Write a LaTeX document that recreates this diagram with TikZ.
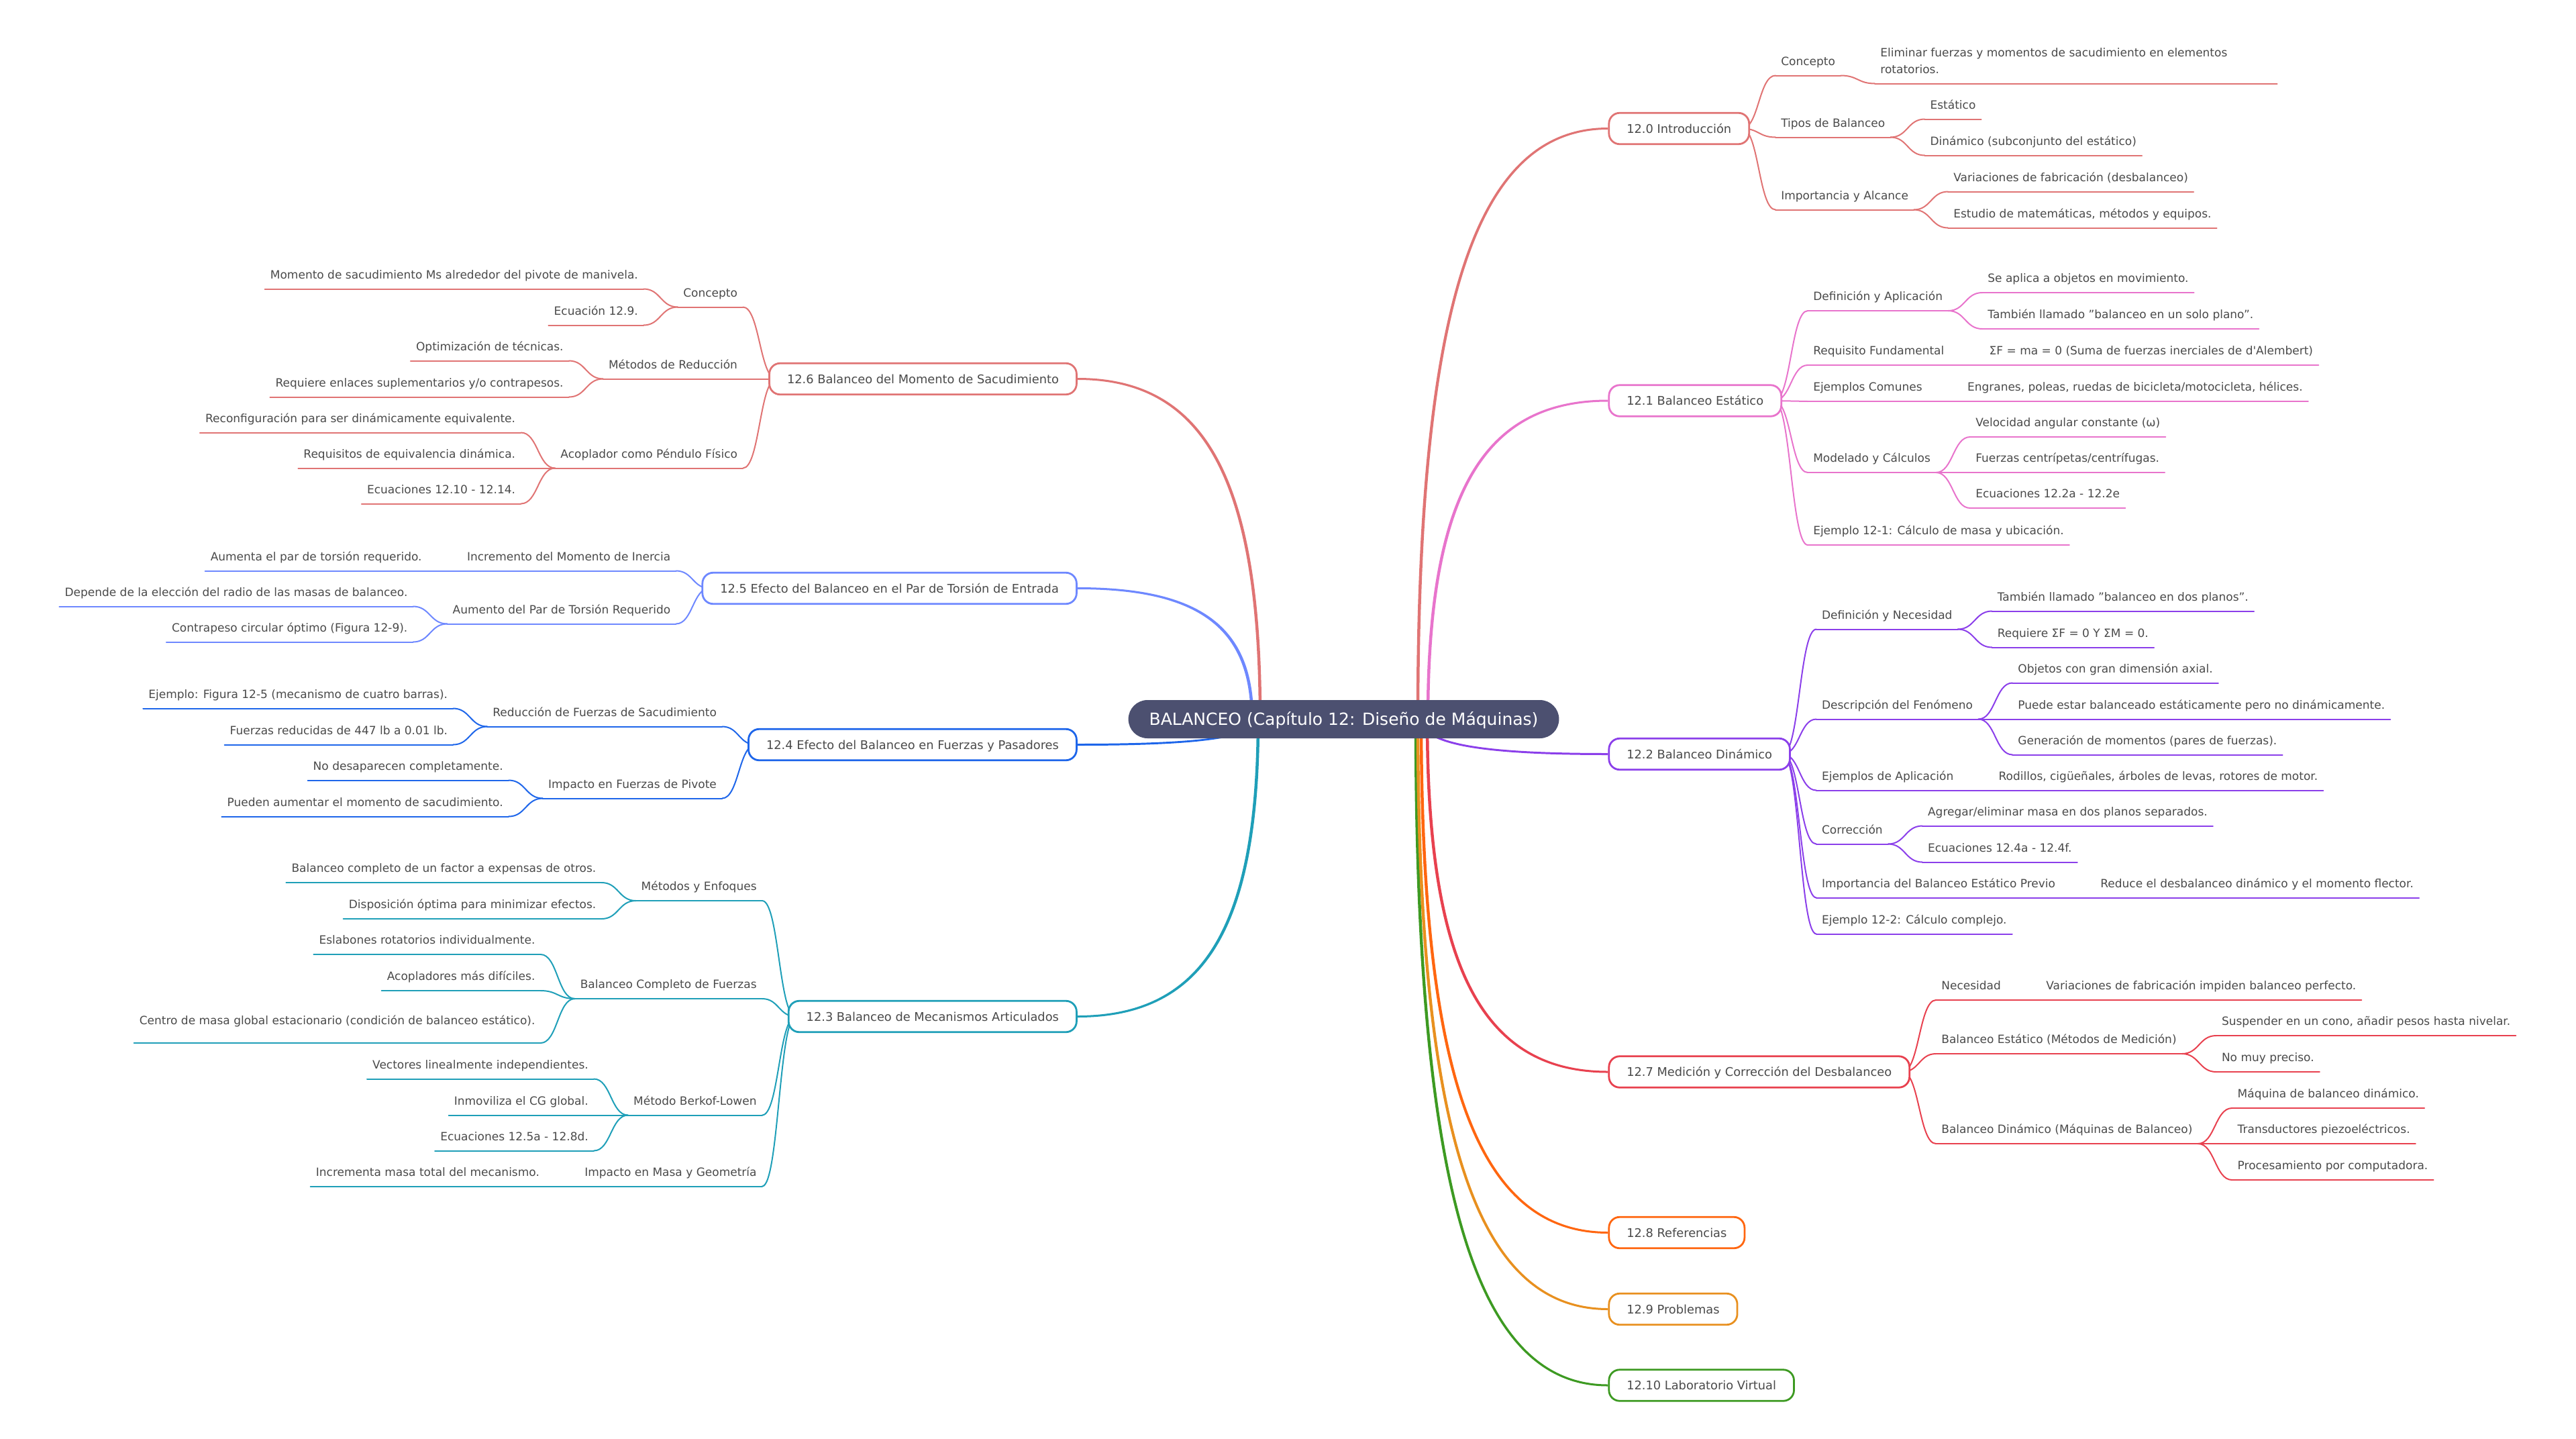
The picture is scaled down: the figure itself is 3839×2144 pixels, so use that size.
\documentclass[tikz,border=0pt]{standalone}
\usepackage{fontspec}
\setmainfont{DejaVu Sans}
\usetikzlibrary{calc,positioning}
\pgfdeclarelayer{bg}
\pgfsetlayers{bg,main}

\definecolor{rootfill}{HTML}{4C5070}
\definecolor{txt}{HTML}{4A4A4A}
\definecolor{colIntro}{HTML}{E07474}
\definecolor{colStatic}{HTML}{E874CC}
\definecolor{colDyn}{HTML}{8B3FEA}
\definecolor{colLink}{HTML}{1F9FB8}
\definecolor{colForce}{HTML}{1E66EA}
\definecolor{colTorque}{HTML}{6E88FF}
\definecolor{colShake}{HTML}{E07474}
\definecolor{colMeas}{HTML}{E8414F}
\definecolor{colRefs}{HTML}{FF6610}
\definecolor{colProbs}{HTML}{E8901F}
\definecolor{colLab}{HTML}{3D9A22}

% curved link, flat at both ends
\newcommand{\mmlink}[3]{\draw[mmline=#1] let \p1=(#2), \p2=(#3) in (\p1) .. controls ({0.5*\x1+0.5*\x2},\y1) and ({0.5*\x1+0.5*\x2},\y2) .. (\p2);}

% tapered link out of the root
\newcommand{\rootlink}[3]{%
  \path (#2) coordinate (rlS) (#3) coordinate (rlE);
  \coordinate (rlSi) at ($(rlS)!2.25pt!(rlS-|rlE)$);
  \coordinate (rlSo) at ($(rlS)!-2.25pt!(rlS-|rlE)$);
  \coordinate (rlEi) at ($(rlE)!1.5pt!(rlE|-rlS)$);
  \coordinate (rlEo) at ($(rlE)!-1.5pt!(rlE|-rlS)$);
  \fill[#1] (rlSo) .. controls ($(rlSo)!0.7!(rlSo|-rlEo)$) and ($(rlEo)!0.7!(rlSo|-rlEo)$) .. (rlEo)
    -- (rlEi) .. controls ($(rlEi)!0.7!(rlSi|-rlEi)$) and ($(rlSi)!0.7!(rlSi|-rlEi)$) .. (rlSi) -- cycle;}

% box -> topics -> leaves, right and left side
\newcommand{\branchR}[3]{%
  \foreach \cat/\leaves in {#3} {
    \mmlink{#2}{[xshift=-12pt]#1.east}{\cat.south west}
    \draw[mmline=#2] (\cat.south west) -- (\cat.south east);
    \foreach \lf in \leaves {
      \mmlink{#2}{\cat.south east}{\lf.south west}
      \draw[mmline=#2] (\lf.south west) -- (\lf.south east);
    }
  }}
\newcommand{\branchL}[3]{%
  \foreach \cat/\leaves in {#3} {
    \mmlink{#2}{[xshift=12pt]#1.west}{\cat.south east}
    \draw[mmline=#2] (\cat.south west) -- (\cat.south east);
    \foreach \lf in \leaves {
      \mmlink{#2}{\cat.south west}{\lf.south east}
      \draw[mmline=#2] (\lf.south west) -- (\lf.south east);
    }
  }}

\begin{document}
\begin{tikzpicture}[x=1pt, y=-1pt,
    rootnode/.style={fill=rootfill, text=white, rounded corners=28.5pt, minimum height=57pt,
      inner xsep=31pt, inner ysep=0pt, text height=24pt, text depth=5.8pt, font=\fontsize{25}{30}\selectfont},
    secbox/.style={draw=#1, fill=white, line width=2.8pt, rounded corners=16pt, minimum height=46.5pt,
      inner xsep=26.5pt, inner ysep=0pt, text height=17pt, text depth=4pt, text=txt, font=\fontsize{17.8}{22}\selectfont},
    mmtext/.style={inner xsep=8pt, inner ysep=15pt, text depth=0pt, text=txt, font=\fontsize{17}{25}\selectfont},
    catR/.style={mmtext, anchor=south west},
    catL/.style={mmtext, anchor=south east},
    mmline/.style={draw=#1, line width=2pt, line cap=round}]
  \useasboundingbox (0,0) rectangle (3839,2144);

  \node[rootnode] (root) at (2002.5,1071.5) {BALANCEO (Capítulo 12: Diseño de Máquinas)};
  \coordinate (rootL) at (1872,1071);
  \coordinate (rootR) at (2118,1071);

  % right boxes
  \node[secbox=colIntro, anchor=west] (b0) at (2396.4,191.5) {12.0 Introducción};
  \node[secbox=colStatic, anchor=west] (b1) at (2396.4,597) {12.1 Balanceo Estático};
  \node[secbox=colDyn, anchor=west] (b2) at (2396.4,1123.5) {12.2 Balanceo Dinámico};
  \node[secbox=colMeas, anchor=west] (b7) at (2396.4,1597) {12.7 Medición y Corrección del Desbalanceo};
  \node[secbox=colRefs, anchor=west] (b8) at (2396.4,1836.5) {12.8 Referencias};
  \node[secbox=colProbs, anchor=west] (b9) at (2396.4,1950.5) {12.9 Problemas};
  \node[secbox=colLab, anchor=west] (b10) at (2396.4,2064) {12.10 Laboratorio Virtual};
  % left boxes
  \node[secbox=colShake, anchor=east] (b6) at (1605.8,564.5) {12.6 Balanceo del Momento de Sacudimiento};
  \node[secbox=colTorque, anchor=east] (b5) at (1605.8,876.5) {12.5 Efecto del Balanceo en el Par de Torsión de Entrada};
  \node[secbox=colForce, anchor=east] (b4) at (1605.8,1109.5) {12.4 Efecto del Balanceo en Fuerzas y Pasadores};
  \node[secbox=colLink, anchor=east] (b3) at (1605.8,1514.5) {12.3 Balanceo de Mecanismos Articulados};

  % 12.0
  \node[catR] (t0a) at ($(b0.east)+(38,-79)$) {Concepto};
  \node[catR] (t0a1) at ($(t0a.south east)+(51,12)$) {\makebox[583pt][l]{\begin{tabular}[b]{@{}l@{}}Eliminar fuerzas y momentos de sacudimiento en elementos\\ rotatorios.\end{tabular}}};
  \node[catR] (t0b) at ($(b0.east)+(38,13)$) {Tipos de Balanceo};
  \node[catR] (t0b1) at ($(t0b.south east)+(51,-27)$) {Estático};
  \node[catR] (t0b2) at ($(t0b.south east)+(51,27)$) {Dinámico (subconjunto del estático)};
  \node[catR] (t0c) at ($(b0.east)+(38,121)$) {Importancia y Alcance};
  \node[catR] (t0c1) at ($(t0c.south east)+(51,-27)$) {Variaciones de fabricación (desbalanceo)};
  \node[catR] (t0c2) at ($(t0c.south east)+(51,27)$) {Estudio de matemáticas, métodos y equipos.};

  % 12.1
  \node[catR] (t1a) at ($(b1.east)+(38,-134)$) {Definición y Aplicación};
  \node[catR] (t1a1) at ($(t1a.south east)+(51,-27)$) {Se aplica a objetos en movimiento.};
  \node[catR] (t1a2) at ($(t1a.south east)+(51,27)$) {También llamado "balanceo en un solo plano".};
  \node[catR] (t1b) at ($(b1.east)+(38,-53)$) {Requisito Fundamental};
  \node[catR] (t1b1) at ($(t1b.south east)+(51,0)$) {ΣF = ma = 0 (Suma de fuerzas inerciales de d\textquotesingle Alembert)};
  \node[catR] (t1c) at ($(b1.east)+(38,1)$) {Ejemplos Comunes};
  \node[catR] (t1c1) at ($(t1c.south east)+(51,0)$) {Engranes, poleas, ruedas de bicicleta/motocicleta, hélices.};
  \node[catR] (t1d) at ($(b1.east)+(38,107)$) {Modelado y Cálculos};
  \node[catR] (t1d1) at ($(t1d.south east)+(51,-53)$) {Velocidad angular constante (ω)};
  \node[catR] (t1d2) at ($(t1d.south east)+(51,0)$) {Fuerzas centrípetas/centrífugas.};
  \node[catR] (t1d3) at ($(t1d.south east)+(51,53)$) {Ecuaciones 12.2a - 12.2e};
  \node[catR] (t1e) at ($(b1.east)+(38,215)$) {Ejemplo 12-1: Cálculo de masa y ubicación.};

  % 12.2
  \node[catR] (t2a) at ($(b2.east)+(38,-186)$) {Definición y Necesidad};
  \node[catR] (t2a1) at ($(t2a.south east)+(51,-27)$) {También llamado "balanceo en dos planos".};
  \node[catR] (t2a2) at ($(t2a.south east)+(51,27)$) {Requiere ΣF = 0 Y ΣM = 0.};
  \node[catR] (t2b) at ($(b2.east)+(38,-52)$) {Descripción del Fenómeno};
  \node[catR] (t2b1) at ($(t2b.south east)+(51,-54)$) {Objetos con gran dimensión axial.};
  \node[catR] (t2b2) at ($(t2b.south east)+(51,0)$) {Puede estar balanceado estáticamente pero no dinámicamente.};
  \node[catR] (t2b3) at ($(t2b.south east)+(51,53)$) {Generación de momentos (pares de fuerzas).};
  \node[catR] (t2c) at ($(b2.east)+(38,54)$) {Ejemplos de Aplicación};
  \node[catR] (t2c1) at ($(t2c.south east)+(51,0)$) {Rodillos, cigüeñales, árboles de levas, rotores de motor.};
  \node[catR] (t2d) at ($(b2.east)+(38,134)$) {Corrección};
  \node[catR] (t2d1) at ($(t2d.south east)+(51,-27)$) {Agregar/eliminar masa en dos planos separados.};
  \node[catR] (t2d2) at ($(t2d.south east)+(51,27)$) {Ecuaciones 12.4a - 12.4f.};
  \node[catR] (t2e) at ($(b2.east)+(38,214)$) {Importancia del Balanceo Estático Previo};
  \node[catR] (t2e1) at ($(t2e.south east)+(51,0)$) {Reduce el desbalanceo dinámico y el momento flector.};
  \node[catR] (t2f) at ($(b2.east)+(38,268)$) {Ejemplo 12-2: Cálculo complejo.};

  % 12.7
  \node[catR] (t7a) at ($(b7.east)+(38,-107)$) {Necesidad};
  \node[catR] (t7a1) at ($(t7a.south east)+(51,0)$) {Variaciones de fabricación impiden balanceo perfecto.};
  \node[catR] (t7b) at ($(b7.east)+(38,-27)$) {Balanceo Estático (Métodos de Medición)};
  \node[catR] (t7b1) at ($(t7b.south east)+(51,-27)$) {Suspender en un cono, añadir pesos hasta nivelar.};
  \node[catR] (t7b2) at ($(t7b.south east)+(51,27)$) {No muy preciso.};
  \node[catR] (t7c) at ($(b7.east)+(38,107)$) {Balanceo Dinámico (Máquinas de Balanceo)};
  \node[catR] (t7c1) at ($(t7c.south east)+(51,-53)$) {Máquina de balanceo dinámico.};
  \node[catR] (t7c2) at ($(t7c.south east)+(51,0)$) {Transductores piezoeléctricos.};
  \node[catR] (t7c3) at ($(t7c.south east)+(51,54)$) {Procesamiento por computadora.};

  % 12.6
  \node[catL] (t6a) at ($(b6.west)+(-38,-107)$) {Concepto};
  \node[catL] (t6a1) at ($(t6a.south west)+(-51,-27)$) {Momento de sacudimiento Ms alrededor del pivote de manivela.};
  \node[catL] (t6a2) at ($(t6a.south west)+(-51,27)$) {Ecuación 12.9.};
  \node[catL] (t6b) at ($(b6.west)+(-38,0)$) {Métodos de Reducción};
  \node[catL] (t6b1) at ($(t6b.south west)+(-51,-27)$) {Optimización de técnicas.};
  \node[catL] (t6b2) at ($(t6b.south west)+(-51,27)$) {Requiere enlaces suplementarios y/o contrapesos.};
  \node[catL] (t6c) at ($(b6.west)+(-38,133)$) {Acoplador como Péndulo Físico};
  \node[catL] (t6c1) at ($(t6c.south west)+(-51,-53)$) {Reconfiguración para ser dinámicamente equivalente.};
  \node[catL] (t6c2) at ($(t6c.south west)+(-51,0)$) {Requisitos de equivalencia dinámica.};
  \node[catL] (t6c3) at ($(t6c.south west)+(-51,53)$) {Ecuaciones 12.10 - 12.14.};

  % 12.5
  \node[catL] (t5a) at ($(b5.west)+(-38,-26)$) {Incremento del Momento de Inercia};
  \node[catL] (t5a1) at ($(t5a.south west)+(-51,0)$) {Aumenta el par de torsión requerido.};
  \node[catL] (t5b) at ($(b5.west)+(-38,53)$) {Aumento del Par de Torsión Requerido};
  \node[catL] (t5b1) at ($(t5b.south west)+(-51,-26)$) {Depende de la elección del radio de las masas de balanceo.};
  \node[catL] (t5b2) at ($(t5b.south west)+(-51,27)$) {Contrapeso circular óptimo (Figura 12-9).};

  % 12.4
  \node[catL] (t4a) at ($(b4.west)+(-38,-27)$) {Reducción de Fuerzas de Sacudimiento};
  \node[catL] (t4a1) at ($(t4a.south west)+(-51,-27)$) {Ejemplo: Figura 12-5 (mecanismo de cuatro barras).};
  \node[catL] (t4a2) at ($(t4a.south west)+(-51,27)$) {Fuerzas reducidas de 447 lb a 0.01 lb.};
  \node[catL] (t4b) at ($(b4.west)+(-38,80)$) {Impacto en Fuerzas de Pivote};
  \node[catL] (t4b1) at ($(t4b.south west)+(-51,-27)$) {No desaparecen completamente.};
  \node[catL] (t4b2) at ($(t4b.south west)+(-51,27)$) {Pueden aumentar el momento de sacudimiento.};

  % 12.3
  \node[catL] (t3a) at ($(b3.west)+(-38,-172.5)$) {Métodos y Enfoques};
  \node[catL] (t3a1) at ($(t3a.south west)+(-51,-27)$) {Balanceo completo de un factor a expensas de otros.};
  \node[catL] (t3a2) at ($(t3a.south west)+(-51,27)$) {Disposición óptima para minimizar efectos.};
  \node[catL] (t3b) at ($(b3.west)+(-38,-26.5)$) {Balanceo Completo de Fuerzas};
  \node[catL] (t3b1) at ($(t3b.south west)+(-51,-66)$) {Eslabones rotatorios individualmente.};
  \node[catL] (t3b2) at ($(t3b.south west)+(-51,-12)$) {Acopladores más difíciles.};
  \node[catL, inner ysep=27pt] (t3b3) at ($(t3b.south west)+(-51,66)$) {Centro de masa global estacionario (condición de balanceo estático).};
  \node[catL] (t3c) at ($(b3.west)+(-38,147)$) {Método Berkof-Lowen};
  \node[catL] (t3c1) at ($(t3c.south west)+(-51,-54)$) {Vectores linealmente independientes.};
  \node[catL] (t3c2) at ($(t3c.south west)+(-51,0)$) {Inmoviliza el CG global.};
  \node[catL] (t3c3) at ($(t3c.south west)+(-51,53)$) {Ecuaciones 12.5a - 12.8d.};
  \node[catL] (t3d) at ($(b3.west)+(-38,253)$) {Impacto en Masa y Geometría};
  \node[catL] (t3d1) at ($(t3d.south west)+(-51,0)$) {Incrementa masa total del mecanismo.};

  \begin{pgfonlayer}{bg}
    \foreach \dst/\col/\dx in {b10/colLab/-8, b9/colProbs/-5, b8/colRefs/0, b7/colMeas/9, b2/colDyn/0, b1/colStatic/10, b0/colIntro/-5}
      \rootlink{\col}{[xshift=\dx pt]rootR}{\dst.west};
    \foreach \dst/\col/\dx in {b3/colLink/3, b4/colForce/0, b5/colTorque/-6, b6/colShake/6}
      \rootlink{\col}{[xshift=\dx pt]rootL}{\dst.east};

    \branchR{b0}{colIntro}{t0a/{t0a1}, t0b/{t0b1,t0b2}, t0c/{t0c1,t0c2}}
    \branchR{b1}{colStatic}{t1a/{t1a1,t1a2}, t1b/{t1b1}, t1c/{t1c1}, t1d/{t1d1,t1d2,t1d3}}
    \mmlink{colStatic}{[xshift=-12pt]b1.east}{t1e.south west}
    \draw[mmline=colStatic] (t1e.south west) -- (t1e.south east);
    \branchR{b2}{colDyn}{t2a/{t2a1,t2a2}, t2b/{t2b1,t2b2,t2b3}, t2c/{t2c1}, t2d/{t2d1,t2d2}, t2e/{t2e1}}
    \mmlink{colDyn}{[xshift=-12pt]b2.east}{t2f.south west}
    \draw[mmline=colDyn] (t2f.south west) -- (t2f.south east);
    \branchR{b7}{colMeas}{t7a/{t7a1}, t7b/{t7b1,t7b2}, t7c/{t7c1,t7c2,t7c3}}

    \branchL{b6}{colShake}{t6a/{t6a1,t6a2}, t6b/{t6b1,t6b2}, t6c/{t6c1,t6c2,t6c3}}
    \branchL{b5}{colTorque}{t5a/{t5a1}, t5b/{t5b1,t5b2}}
    \branchL{b4}{colForce}{t4a/{t4a1,t4a2}, t4b/{t4b1,t4b2}}
    \branchL{b3}{colLink}{t3a/{t3a1,t3a2}, t3b/{t3b1,t3b2,t3b3}, t3c/{t3c1,t3c2,t3c3}, t3d/{t3d1}}
  \end{pgfonlayer}
\end{tikzpicture}
\end{document}
